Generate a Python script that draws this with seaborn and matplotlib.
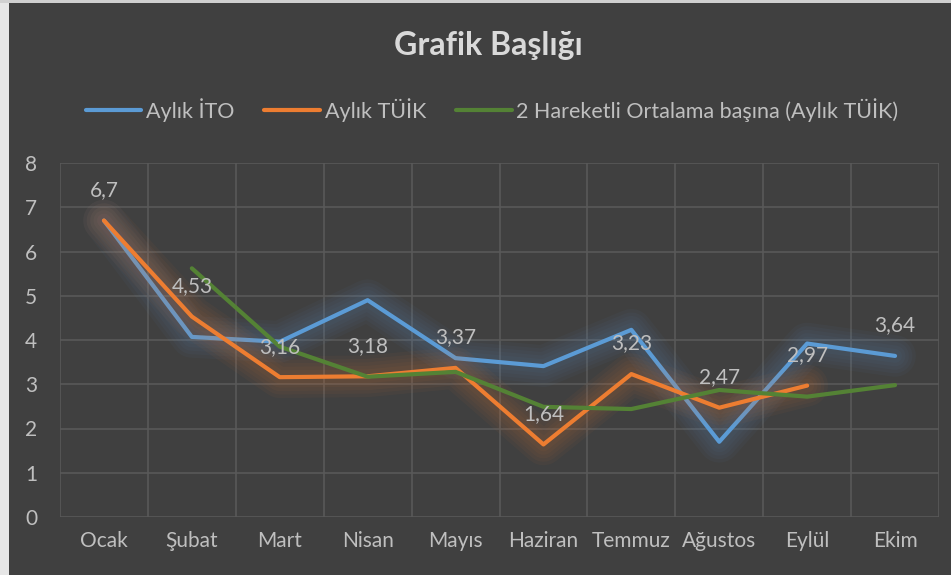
import numpy as np
import pandas as pd
import matplotlib
matplotlib.use("Agg")
import matplotlib.pyplot as plt
import matplotlib.patheffects as pe
from matplotlib.lines import Line2D
from matplotlib.patches import Rectangle
import seaborn as sns

# Data
months = ["Ocak", "Şubat", "Mart", "Nisan", "Mayıs", "Haziran", "Temmuz", "Ağustos", "Eylül", "Ekim"]
ito = [6.7, 4.07, 3.96, 4.90, 3.59, 3.41, 4.23, 1.70, 3.92, 3.64]
tuik = [6.7, 4.53, 3.16, 3.18, 3.37, 1.64, 3.23, 2.47, 2.97, np.nan]
moving_avg = [np.nan, 5.62, 3.85, 3.17, 3.28, 2.49, 2.44, 2.87, 2.72, 2.98]
yticks = [0, 1, 2, 3, 4, 5, 6, 7, 8]

series_names = ["Aylık İTO", "Aylık TÜİK", "2 Hareketli Ortalama başına (Aylık TÜİK)"]

df = pd.DataFrame({"x": np.arange(len(months)), "ito": ito, "tuik": tuik, "ma": moving_avg})

bg = "#404040"
grid_c = "#595959"
text_c = "#bfbfbf"
blue = "#5B9BD5"
orange = "#ED7D31"
green = "#548235"

sns.set_theme(style="dark")
plt.rcParams["font.family"] = ["Lato", "DejaVu Sans"]

fig = plt.figure(figsize=(9.51, 5.75), dpi=100)
fig.patch.set_facecolor(bg)
# light frame on the left and top edge
fig.patches.append(Rectangle((0, 0), 9 / 951, 1, transform=fig.transFigure,
                             facecolor="#e6e6e6", edgecolor="none", zorder=-1))
fig.patches.append(Rectangle((0, 1 - 3 / 575), 1, 3 / 575, transform=fig.transFigure,
                             facecolor="#d0d0d0", edgecolor="none", zorder=-1))

ax = fig.add_axes([60 / 951, 58 / 575, 879 / 951, 354 / 575])
ax.set_facecolor(bg)


def glow(color):
    # soft, wide halo like the Excel glow effect
    widths = [30, 25, 20, 15, 10]
    return [pe.Stroke(linewidth=w, foreground=color, alpha=0.045, joinstyle="round",
                      capstyle="round") for w in widths] + [pe.Normal()]


sns.lineplot(data=df, x="x", y="ito", ax=ax, color=blue, linewidth=3,
             path_effects=glow(blue), zorder=3)
sns.lineplot(data=df, x="x", y="tuik", ax=ax, color=orange, linewidth=3,
             path_effects=glow(orange), zorder=4)
sns.lineplot(data=df, x="x", y="ma", ax=ax, color=green, linewidth=3, zorder=5)

# data labels
for xi, v in zip(df["x"], tuik):
    if not np.isnan(v):
        ax.annotate(f"{v:g}".replace(".", ","), (xi, v), xytext=(0, 22), textcoords="offset points",
                    ha="center", va="center", fontsize=15, color=text_c, zorder=6)
ax.annotate(f"{ito[-1]:g}".replace(".", ","), (df["x"].iloc[-1], ito[-1]), xytext=(0, 22),
            textcoords="offset points", ha="center", va="center", fontsize=15, color=text_c, zorder=6)

ax.set_xlim(-0.5, len(months) - 0.5)
ax.set_ylim(0, 8)
ax.set_yticks(yticks)
ax.set_yticklabels([str(t) for t in yticks])
ax.set_xticks(df["x"])
ax.set_xticklabels(months)
ax.set_xticks(np.arange(-0.5, len(months), 1), minor=True)
ax.tick_params(axis="both", which="both", length=0, labelsize=15, labelcolor=text_c)
ax.tick_params(axis="y", pad=16.5)
ax.tick_params(axis="x", pad=10)
ax.grid(False)
ax.grid(axis="y", which="major", color=grid_c, linewidth=1.2)
ax.grid(axis="x", which="minor", color=grid_c, linewidth=1.2)
ax.set_axisbelow(True)
for s in ax.spines.values():
    s.set_visible(False)
ax.set_xlabel("")
ax.set_ylabel("")

fig.text(488 / 951, 1 - 46 / 575, "Grafik Başlığı", ha="center", va="center",
         fontsize=23, fontweight="bold", color="#d9d9d9")

handles = [Line2D([0], [0], color=c, linewidth=3, solid_capstyle="round") for c in (blue, orange, green)]
fig.legend(handles, series_names, loc="center", bbox_to_anchor=(492 / 951, 1 - 110 / 575),
           ncol=3, frameon=False, fontsize=15.5, labelcolor=text_c, handlelength=2.6,
           handletextpad=0.2, columnspacing=1.4)

fig.savefig("out.png", dpi=100, facecolor=fig.get_facecolor())
